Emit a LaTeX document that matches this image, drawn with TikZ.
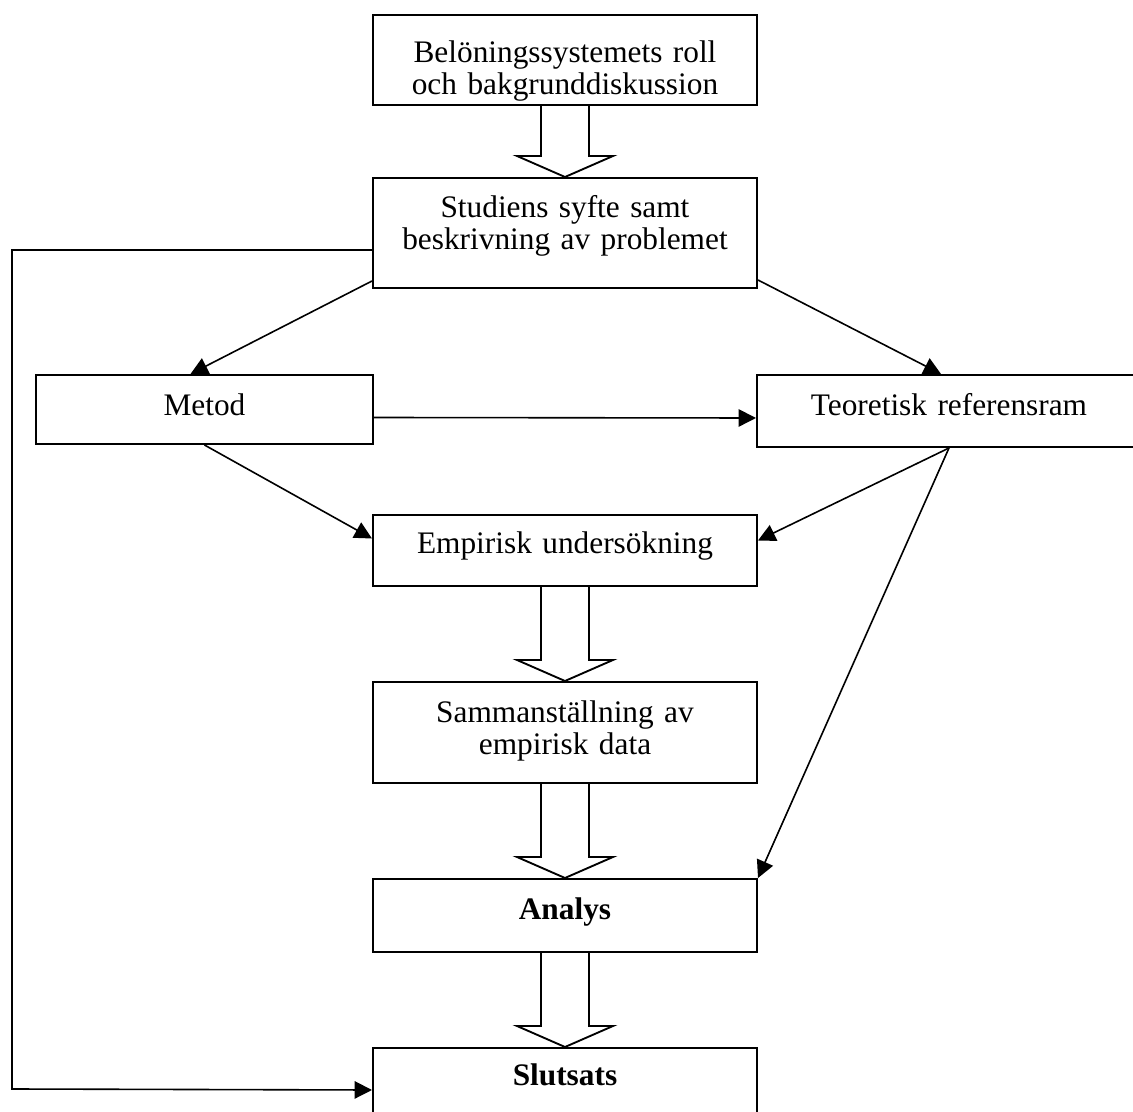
\documentclass[tikz,border=0pt]{standalone}
\usepackage{fontspec}
\setmainfont{Liberation Serif}
\usetikzlibrary{arrows.meta,calc}

\tikzset{
  box/.style={draw, line width=1.5pt, rectangle, inner sep=0pt, anchor=north west,
    text width=288pt, align=center, font=\fontsize{23.5}{24}\selectfont},
  conn/.style={line width=1.2pt, -{Triangle[length=13pt,width=13pt]}},
  hollow/.style={line width=1.4pt, line join=miter}
}
% open block arrow from #1 (top) to #2 (tip)
\newcommand{\blockarrow}[2]{%
  \draw[hollow] ($(#1)+(-24,0)$) -- ($(#2)+(-24,-21)$) -- ($(#2)+(-48,-21)$) -- (#2)
    -- ($(#2)+(48,-21)$) -- ($(#2)+(24,-21)$) -- ($(#1)+(24,0)$);}

\begin{document}
\begin{tikzpicture}[x=0.75pt,y=0.75pt,yscale=-1,xscale=1]
\clip (0,0) rectangle (1133,1112);

%Boxes
\node[box, text height=36pt, text depth=31.5pt] (bel) at (372,14) {Belöningssystemets roll\\och bakgrunddiskussion};
\node[box, text height=30pt, text depth=52.5pt] (syfte) at (372,177) {Studiens syfte samt\\beskrivning av problemet};
\node[box, text width=252.75pt, text height=30.75pt, text depth=21pt] (metod) at (35,374) {Metod};
\node[box, text height=30.75pt, text depth=23.25pt] (teori) at (756,374) {Teoretisk referensram};
\node[box, text height=29.25pt, text depth=24pt] (emp) at (372,514) {Empirisk undersökning};
\node[box, text height=30.75pt, text depth=45pt] (samman) at (372,681) {Sammanställning av\\empirisk data};
\node[box, text height=30pt, text depth=24.75pt] (analys) at (372,878) {\textbf{Analys}};
\node[box, text height=27.75pt, text depth=35.25pt] (slut) at (372,1047) {\textbf{Slutsats}};

%Block arrows
\blockarrow{bel.south}{syfte.north}
\blockarrow{emp.south}{samman.north}
\blockarrow{samman.south}{analys.north}
\blockarrow{analys.south}{slut.north}

%Connectors
\draw[conn] ($(syfte.south west)+(0,-8)$) -- ($(metod.north)+(-14,0)$);
\draw[conn] ($(syfte.south east)+(0,-9)$) -- ($(teori.north)+(-8,0)$);
\draw[conn] ($(metod.east)+(0,8)$) -- ($(teori.west)+(0,7)$);
\draw[conn] (metod.south) -- ($(emp.west)+(0,-12)$);
\draw[conn] (teori.south) -- ($(emp.east)+(0,-10)$);
\draw[conn] (teori.south) -- (analys.north east);

\coordinate (loop) at (12,1089);
\draw[conn] ($(syfte.west)+(0,17)$) -| (loop) -- (slut.west);

\end{tikzpicture}
\end{document}
